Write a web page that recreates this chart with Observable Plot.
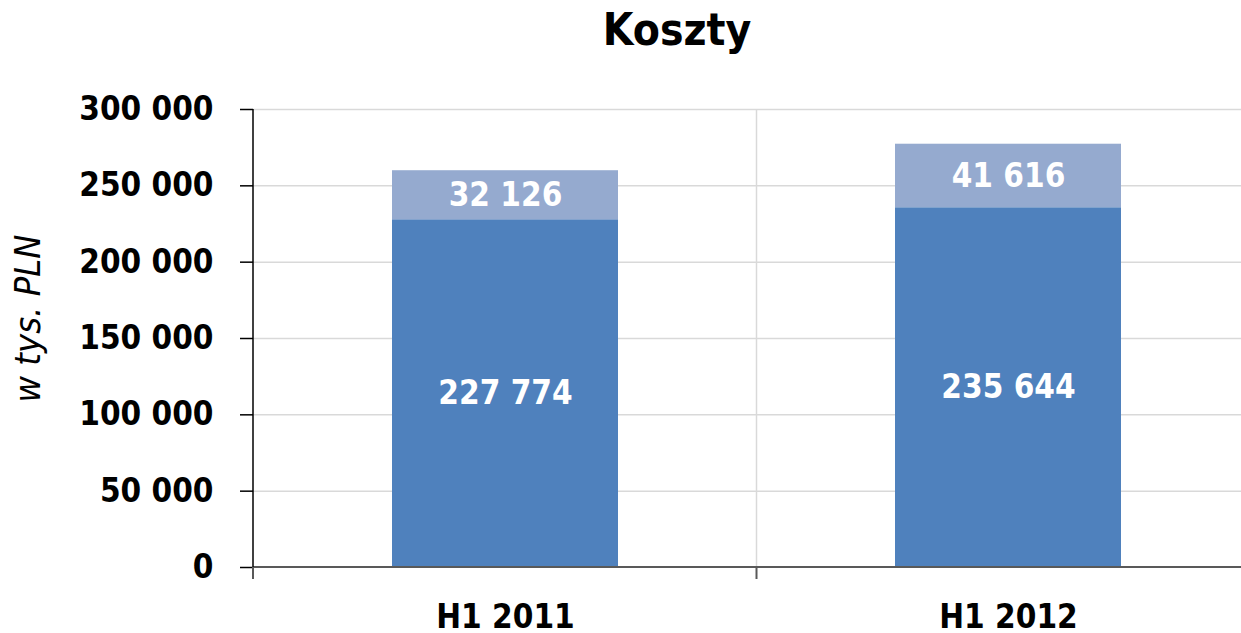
<!DOCTYPE html>
<html>
<head>
<meta charset="utf-8">
<script src="https://cdn.jsdelivr.net/npm/d3@7"></script>
<script src="https://cdn.jsdelivr.net/npm/@observablehq/plot@0.6"></script>
<style>
  html, body { margin: 0; padding: 0; background: #fff; overflow: hidden; }
  #wrap { position: relative; width: 1241px; height: 633px; }
  #title { position: absolute; top: 8px; left: 677px; transform: translateX(-50%);
    font-family: 'DejaVu Sans Condensed', 'DejaVu Sans', Verdana, sans-serif; font-weight: bold; font-size: 44px;
    line-height: 44px; white-space: nowrap; color: #000; }
</style>
</head>
<body>
<div id="wrap"><div id="title">Koszty</div></div>
<script>
const titleText = "Koszty";
const axisLabel = "w tys. PLN";
const categories = ["H1 2011", "H1 2012"];
const partNames = ["dolna", "górna"];
const lowerValues = [227774, 235644];
const upperValues = [32126, 41616];
const yTicks = [0, 50000, 100000, 150000, 200000, 250000, 300000];

document.getElementById("title").textContent = titleText;

const font = "'DejaVu Sans Condensed', 'DejaVu Sans', Verdana, sans-serif";
const fmt = d3.formatLocale({decimal: ",", thousands: " ", grouping: [3], currency: ["", ""]}).format(",d");

const data = categories.flatMap((c, i) => [
  {cat: c, part: partNames[0], value: lowerValues[i]},
  {cat: c, part: partNames[1], value: upperValues[i]}
]);

function boundaries(scales, dims) {
  const x = scales.x;
  let r0, r1, n;
  if (x && x.range) { [r0, r1] = x.range(); n = x.domain().length; }
  else { r0 = dims.marginLeft; r1 = dims.width - dims.marginRight; n = categories.length; }
  const step = (r1 - r0) / n;
  return d3.range(n + 1).map(k => r0 + k * step);
}

function gridMark(index, scales, values, dims) {
  const b = boundaries(scales, dims);
  const g = d3.create("svg:g");
  b.slice(1, -1).forEach(xv => {
    g.append("line").attr("x1", xv).attr("x2", xv)
      .attr("y1", scales.y(yTicks[yTicks.length - 1])).attr("y2", scales.y(0))
      .attr("stroke", "#d9d9d9").attr("stroke-width", 1.5);
  });
  return g.node();
}

function axesMark(index, scales, values, dims) {
  const b = boundaries(scales, dims);
  const y0 = scales.y(0);
  const g = d3.create("svg:g");
  g.append("line").attr("x1", b[0]).attr("x2", b[b.length - 1]).attr("y1", y0).attr("y2", y0)
    .attr("stroke", "#595959").attr("stroke-width", 2);
  b.forEach(xv => {
    g.append("line").attr("x1", xv).attr("x2", xv).attr("y1", y0).attr("y2", y0 + 12)
      .attr("stroke", "#595959").attr("stroke-width", 2);
  });
  g.append("line").attr("x1", b[0]).attr("x2", b[0])
    .attr("y1", scales.y(yTicks[yTicks.length - 1])).attr("y2", y0)
    .attr("stroke", "#000").attr("stroke-width", 1.5);
  return g.node();
}

const chart = Plot.plot({
  width: 1241,
  height: 633,
  marginLeft: 253,
  marginRight: -19,
  marginTop: 109,
  marginBottom: 66,
  style: {fontFamily: font, fontSize: "33px", fontWeight: "bold", color: "#000", background: "#fff"},
  x: {domain: categories, paddingInner: 0.55, paddingOuter: 0.275},
  y: {domain: [yTicks[0], yTicks[yTicks.length - 1]]},
  color: {domain: partNames, range: ["#4F81BD", "#95AACF"]},
  marks: [
    Plot.ruleY(yTicks.slice(1), {stroke: "#d9d9d9", strokeWidth: 1.5}),
    gridMark,
    Plot.barY(data, {x: "cat", y: "value", fill: "part"}),
    Plot.text(data, Plot.stackY({x: "cat", y: "value", text: d => fmt(d.value), fill: "white",
      fontSize: 33, fontWeight: "bold"})),
    Plot.axisY({ticks: yTicks, tickFormat: fmt, tickSize: 13, tickPadding: 27, fontSize: 33,
      fontWeight: "bold", stroke: "#000", strokeWidth: 1.5, label: null}),
    Plot.axisX({tickSize: 0, tickPadding: 37, fontSize: 33, fontWeight: "bold", label: null}),
    axesMark,
    Plot.text([axisLabel], {frameAnchor: "left", textAnchor: "middle", rotate: -90, dx: -225, dy: -20,
      fontStyle: "italic", fontWeight: "normal", fontSize: 36, fill: "#000"})
  ]
});
document.getElementById("wrap").appendChild(chart);
</script>
</body>
</html>
